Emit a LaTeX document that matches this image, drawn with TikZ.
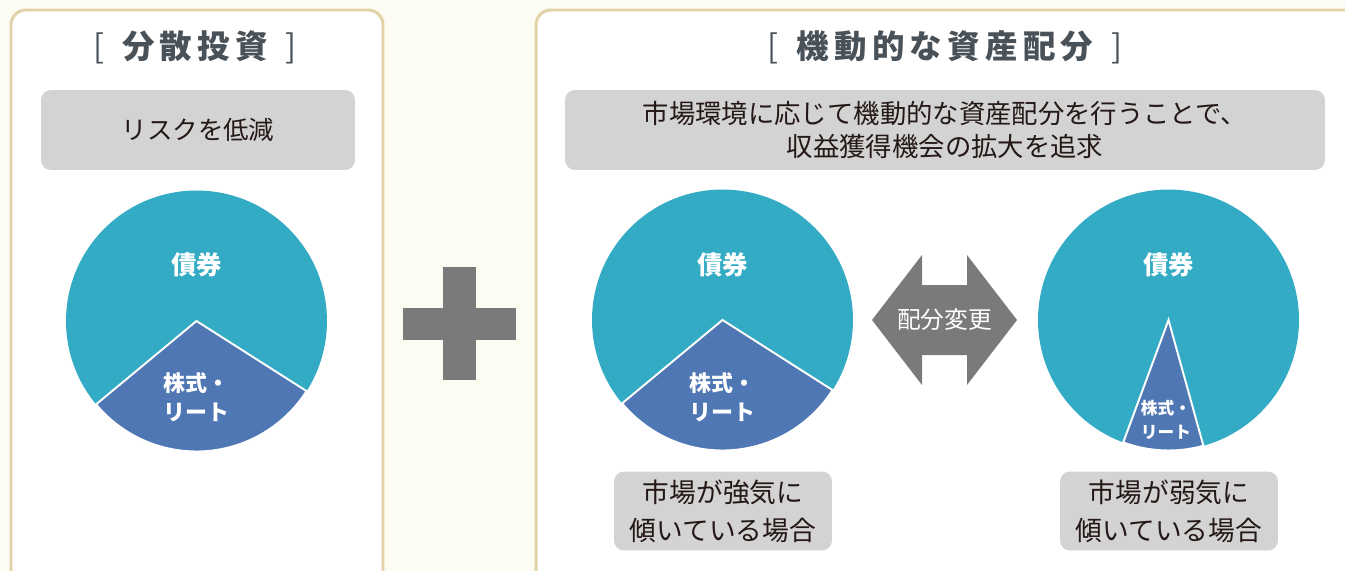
\documentclass[tikz,border=0pt]{standalone}
\usepackage{fontspec}
\setmainfont{Noto Sans CJK JP}
\usepackage{tikz}
\usetikzlibrary{positioning}
\definecolor{cream}{HTML}{FDFCF2}
\definecolor{frame}{HTML}{E2D2A8}
\definecolor{boxgray}{HTML}{D3D3D3}
\definecolor{ink}{HTML}{231815}
\definecolor{heading}{HTML}{4A5259}
\definecolor{bondteal}{HTML}{33ABC5}
\definecolor{stockblue}{HTML}{4F77B4}
\definecolor{signgray}{HTML}{7A7A7A}

\begin{document}
\begin{tikzpicture}[x=0.02cm,y=-0.02cm,
  panel/.style={draw=frame,fill=white,line width=1.7pt,rounded corners=8.5pt},
  title/.style={text=heading,font=\fontsize{18.5}{22}\selectfont},
  note/.style={fill=boxgray,rounded corners=5.7pt,text=ink,align=center,inner sep=0pt},
  pie/.style={circle,fill=bondteal,minimum size=5.22cm,inner sep=0pt},
  share/.style={text=white,align=center,inner sep=0pt},
  wedge/.style={fill=stockblue,draw=white,line width=1.1pt}]
\fill[cream] (0,0) rectangle (1345,571);
\useasboundingbox (0,0) rectangle (1345,571);
\clip (0,0) rectangle (1345,571);

% panels
\draw[panel] (11,10) rectangle (383,590);
\draw[panel] (536,10) rectangle (1370,590);

% left: diversification
\node (title1) at (195,47) [title] {\mdseries[\hspace{0.36cm}\bfseries 分\hspace{3pt}散\hspace{3pt}投\hspace{3pt}資\hspace{0.36cm}\mdseries]};
\node (risk) at (198,130) [note,minimum width=6.28cm,minimum height=1.6cm,font=\fontsize{14.5}{17}\selectfont] {リスクを低減};

\node (pie1) at (196.5,321) [pie] {};
\filldraw[wedge] (pie1.center) -- ++(32.5:130.5) arc (32.5:140.3:130.5) -- cycle;
\node (bond1) at (196.5,265) [share,font=\fontsize{14.5}{17}\selectfont\bfseries] {債券};
\node (stock1) at (196.5,397) [share,font=\fontsize{12.5}{16.4}\selectfont\bfseries] {株式・\\リート};

% plus
\fill[signgray] (403,308) rectangle (516,340);
\fill[signgray] (443,267) rectangle (476,380);

% right: dynamic allocation
\node (title2) at (945,47) [title] {\mdseries[\hspace{0.36cm}\bfseries 機\hspace{3pt}動\hspace{3pt}的\hspace{3pt}な\hspace{3pt}資\hspace{3pt}産\hspace{3pt}配\hspace{3pt}分\hspace{0.36cm}\mdseries]};
\node (aim) at (945,130) [note,minimum width=15.2cm,minimum height=1.6cm,font=\fontsize{15}{18.7}\selectfont] {市場環境に応じて機動的な資産配分を行うことで、\\収益獲得機会の拡大を追求};

\node (pie2) at (722.5,320) [pie] {};
\filldraw[wedge] (pie2.center) -- ++(32.5:130.5) arc (32.5:140.3:130.5) -- cycle;
\node (bond2) at (722.5,265) [share,font=\fontsize{14.5}{17}\selectfont\bfseries] {債券};
\node (stock2) at (722.5,397) [share,font=\fontsize{12.5}{16.4}\selectfont\bfseries] {株式・\\リート};

\node (pie3) at (1168.5,320) [pie] {};
\filldraw[wedge] (pie3.center) -- ++(74.5:130.5) arc (74.5:110.3:130.5) -- cycle;
\node (bond3) at (1168.5,265) [share,font=\fontsize{14.5}{17}\selectfont\bfseries] {債券};
\node (stock3) at (1166,420) [share,font=\fontsize{9.5}{14}\selectfont\bfseries] {株式・\\リート};

% swap arrow
\fill[signgray] (872,320) -- (922,255) -- (922,285) -- (967,285) -- (967,255) -- (1017,320)
  -- (967,385) -- (967,355) -- (922,355) -- (922,385) -- cycle;
\node (swap) at (944.5,320) [text=white,font=\fontsize{13.5}{15}\selectfont] {配分変更};

\node (bull) at (723,511) [note,minimum width=4.36cm,minimum height=1.58cm,font=\fontsize{15.2}{21.5}\selectfont] {市場が強気に\\傾いている場合};
\node (bear) at (1169,511) [note,minimum width=4.36cm,minimum height=1.58cm,font=\fontsize{15.2}{21.5}\selectfont] {市場が弱気に\\傾いている場合};
\end{tikzpicture}
\end{document}
